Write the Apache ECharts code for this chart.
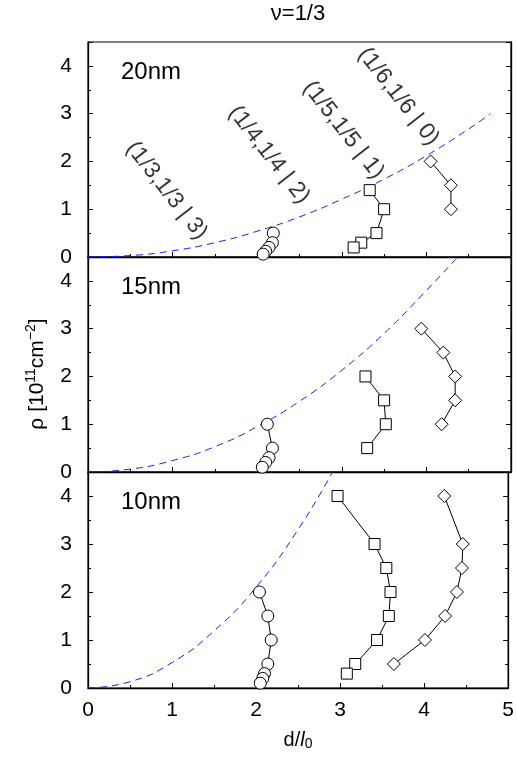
<!DOCTYPE html>
<html><head><meta charset="utf-8">
<script src="https://cdn.jsdelivr.net/npm/echarts@6/dist/echarts.min.js"></script>
<style>html,body{margin:0;padding:0;background:#fff}#c{width:517px;height:763px}</style>
</head><body><div id="c"></div>
<script>
const FONT = '"Liberation Sans", Arial, Helvetica, sans-serif';

// axes
const xMin = 0, xMax = 5, xStep = 1;
const yMin = 0, yMax = 4.5, yStep = 1;
const panelNames = ['20nm', '15nm', '10nm'];

// 20 nm panel
const circ20 = [[2.19,0.5],[2.18,0.3],[2.14,0.2],[2.10,0.12],[2.07,0.06]];
const sq20   = [[3.33,1.4],[3.50,1.0],[3.41,0.5],[3.23,0.3],[3.14,0.2]];
const dia20  = [[4.05,2.0],[4.29,1.5],[4.29,1.0]];
const curve20 = [[0,0],[0.5,0.03],[1,0.13],[1.5,0.3],[2,0.54],[2.5,0.84],[3,1.21],[3.5,1.63],[4,2.12],[4.5,2.68],[4.76,3.0]];

// 15 nm panel
const circ15 = [[2.12,1.0],[2.18,0.5],[2.14,0.3],[2.10,0.2],[2.06,0.1]];
const sq15   = [[3.28,2.0],[3.50,1.5],[3.52,1.0],[3.30,0.5]];
const dia15  = [[3.94,3.0],[4.20,2.5],[4.34,2.0],[4.34,1.5],[4.18,1.0]];
const curve15 = [[0,0],[0.5,0.06],[1,0.24],[1.5,0.53],[2,0.95],[2.5,1.48],[3,2.13],[3.5,2.9],[4,3.8],[4.37,4.5]];

// 10 nm panel
const circ10 = [[2.04,2.0],[2.14,1.5],[2.18,1.0],[2.14,0.5],[2.10,0.3],[2.08,0.2],[2.05,0.1]];
const sq10   = [[2.97,4.0],[3.41,3.0],[3.55,2.5],[3.60,2.0],[3.58,1.5],[3.44,1.0],[3.18,0.5],[3.08,0.3]];
const dia10  = [[4.24,4.0],[4.46,3.0],[4.45,2.5],[4.39,2.0],[4.25,1.5],[4.01,1.0],[3.64,0.5]];
const curve10 = [[0,0],[0.5,0.13],[1,0.53],[1.5,1.19],[2,2.1],[2.5,3.3],[2.91,4.5]];

// annotations in the 20nm panel (data coordinates)
const annoNames = ['(1/3,1/3 | 3)','(1/4,1/4 | 2)','(1/5,1/5 | 1)','(1/6,1/6 | 0)'];
const annoX = [0.93, 2.14, 3.02, 3.67];
const annoY = [1.39, 2.14, 2.66, 3.36];

const panels = [
  {circ: circ20, sq: sq20, dia: dia20, curve: curve20},
  {circ: circ15, sq: sq15, dia: dia15, curve: curve15},
  {circ: circ10, sq: sq10, dia: dia10, curve: curve10}
];

const gridTops = [42, 257, 472];
const gridH = [215, 215, 216];

const grids = [], xAxes = [], yAxes = [], series = [];
const AX = '#000';
for (let i = 0; i < 3; i++) {
  grids.push({left: 88, width: 423, top: gridTops[i], height: gridH[i],
    show: true, borderColor: AX, borderWidth: 1.2, backgroundColor: 'transparent'});
  xAxes.push({gridIndex: i, type: 'value', min: xMin, max: xMax, interval: xStep,
    axisLine: {show: true, onZero: false, lineStyle: {color: AX, width: 1.3}},
    axisTick: {show: true, inside: true, length: 5, lineStyle: {color: AX, width: 1}},
    minorTick: {show: true, splitNumber: 2, length: 3, lineStyle: {color: AX, width: 1}},
    splitLine: {show: false}, minorSplitLine: {show: false},
    axisLabel: {show: i === 2, color: '#000', fontSize: 21, fontFamily: FONT, margin: 12}
  });
}
for (let i = 0; i < 3; i++) {
  yAxes.push({gridIndex: i, type: 'value', position: 'left', min: yMin, max: yMax, interval: yStep,
    axisLine: {show: true, onZero: false, lineStyle: {color: AX, width: 1.3}},
    axisTick: {show: true, inside: true, length: 5, lineStyle: {color: AX, width: 1}},
    minorTick: {show: true, splitNumber: 2, length: 3, lineStyle: {color: AX, width: 1}},
    splitLine: {show: false},
    axisLabel: {color: '#000', fontSize: 21, fontFamily: FONT, margin: 16, showMaxLabel: false,
      formatter: v => (Number.isInteger(v) ? String(v) : '')}
  });
}
for (let i = 0; i < 3; i++) {
  yAxes.push({gridIndex: i, type: 'value', position: 'right', min: yMin, max: yMax, interval: yStep,
    axisLine: {show: true, onZero: false, lineStyle: {color: AX, width: 1.3}},
    axisTick: {show: true, inside: true, length: 5, lineStyle: {color: AX, width: 1}},
    minorTick: {show: true, splitNumber: 2, length: 3, lineStyle: {color: AX, width: 1}},
    splitLine: {show: false}, axisLabel: {show: false}
  });
}

function markerSeries(i, data, symbol, size) {
  return {type: 'line', xAxisIndex: i, yAxisIndex: i, data: data, symbol: symbol, symbolSize: size,
    showAllSymbol: true, z: 3,
    lineStyle: {color: '#000', width: 1},
    itemStyle: {color: '#fff', borderColor: '#000', borderWidth: 1},
    emphasis: {disabled: true}, animation: false};
}
for (let i = 0; i < 3; i++) {
  const p = panels[i];
  series.push({type: 'line', xAxisIndex: i, yAxisIndex: i, data: p.curve, symbol: 'none',
    smooth: true, z: 2,
    lineStyle: {color: '#1a1aff', width: 1, type: [7, 5]}, animation: false});
  series.push(markerSeries(i, p.circ, 'circle', 12));
  series.push(markerSeries(i, p.sq, 'rect', 11));
  series.push(markerSeries(i, p.dia, 'diamond', 13));
}
series.push({type: 'scatter', xAxisIndex: 0, yAxisIndex: 0, symbolSize: 0, z: 5,
  data: annoNames.map((n, k) => ({name: n, value: [annoX[k], annoY[k]]})),
  label: {show: true, position: 'inside', formatter: '{b}', rotate: -52,
    color: '#000', fontSize: 23, fontFamily: FONT},
  emphasis: {disabled: true}, animation: false});

const panelLabelY = [72, 287, 502];
const graphic = [
  {type: 'text', x: 298, y: 14, style: {text: 'ν=1/3', fontSize: 22, fontFamily: FONT, fill: '#000',
    align: 'center', verticalAlign: 'middle'}},
  {type: 'text', x: 298, y: 740, style: {text: 'd/{i|l}{s|0}', fontSize: 20, fontFamily: FONT, fill: '#000',
    align: 'center', verticalAlign: 'middle',
    rich: {i: {fontSize: 20, fontStyle: 'italic', fontFamily: FONT},
           s: {fontSize: 14, fontFamily: FONT, verticalAlign: 'bottom', padding: [9, 0, 0, 0]}}}},
  {type: 'text', x: 37, y: 374, rotation: Math.PI / 2, style: {text: 'ρ [10{p|11}cm{p|−2}]', fontSize: 21,
    fontFamily: FONT, fill: '#000', align: 'center', verticalAlign: 'middle',
    rich: {p: {fontSize: 14, fontFamily: FONT, verticalAlign: 'top', padding: [0, 0, 11, 0]}}}}
];
for (let i = 0; i < 3; i++) {
  graphic.push({type: 'text', x: 121, y: panelLabelY[i], style: {text: panelNames[i], fontSize: 24,
    fontFamily: FONT, fill: '#000', align: 'left', verticalAlign: 'middle'}});
}

const chart = echarts.init(document.getElementById('c'), null, {renderer: 'canvas'});
chart.setOption({
  animation: false, backgroundColor: '#fff',
  grid: grids, xAxis: xAxes, yAxis: yAxes, series: series, graphic: graphic
});
</script></body></html>
